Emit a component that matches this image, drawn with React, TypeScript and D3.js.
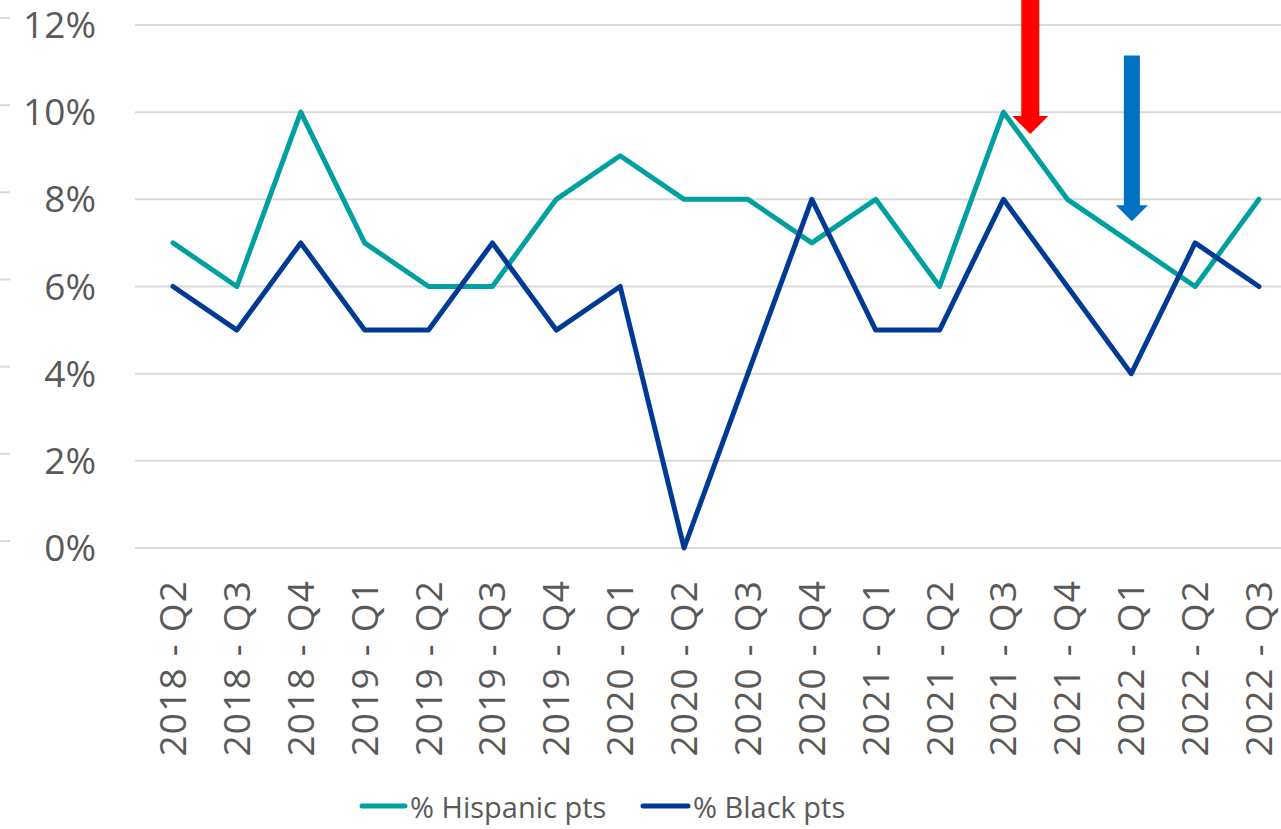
import { useEffect, useRef } from "react"
import * as d3 from "d3"

const categories = [
  "2018 - Q2", "2018 - Q3", "2018 - Q4", "2019 - Q1", "2019 - Q2", "2019 - Q3",
  "2019 - Q4", "2020 - Q1", "2020 - Q2", "2020 - Q3", "2020 - Q4", "2021 - Q1",
  "2021 - Q2", "2021 - Q3", "2021 - Q4", "2022 - Q1", "2022 - Q2", "2022 - Q3",
]
const hispanic = [7, 6, 10, 7, 6, 6, 8, 9, 8, 8, 7, 8, 6, 10, 8, 7, 6, 8]
const black = [6, 5, 7, 5, 5, 7, 5, 6, 0, 4, 8, 5, 5, 8, 6, 4, 7, 6]
const yTicks = [0, 2, 4, 6, 8, 10, 12]

const seriesList = [
  { name: "% Hispanic pts", values: hispanic, color: "#009FA0" },
  { name: "% Black pts", values: black, color: "#003A94" },
]

// annotation arrows: position in category steps, top value, tip value
const arrows = [
  { at: 13.42, from: 13.6, to: 9.5, color: "#FF0000", shaft: 18, head: 36 },
  { at: 15.01, from: 11.3, to: 7.5, color: "#0070C0", shaft: 16, head: 32 },
]

const App = () => {
  const svgRef = useRef<SVGSVGElement | null>(null)

  useEffect(() => {
    const width = 1281
    const height = 829
    const font = "'Open Sans', 'Liberation Sans', sans-serif"
    const textColor = "#595959"

    const svg = d3.select(svgRef.current)
    svg.selectAll("*").remove()
    svg.attr("width", width).attr("height", height)

    const x = d3.scalePoint<string>().domain(categories).range([173, 1259])
    const y = d3.scaleLinear().domain([0, 12]).range([548, 25])

    // gridlines
    svg
      .append("g")
      .selectAll("line")
      .data(yTicks)
      .enter()
      .append("line")
      .attr("x1", 135)
      .attr("x2", width)
      .attr("y1", (d) => y(d))
      .attr("y2", (d) => y(d))
      .style("stroke", "#D9D9D9")
      .style("stroke-width", 2)

    // small dashes at the far left
    svg
      .append("g")
      .selectAll("line")
      .data(yTicks)
      .enter()
      .append("line")
      .attr("x1", 0)
      .attr("x2", 10)
      .attr("y1", (d) => y(d) - 7)
      .attr("y2", (d) => y(d) - 7)
      .style("stroke", "#D9D9D9")
      .style("stroke-width", 2)

    // y labels
    svg
      .append("g")
      .selectAll("text")
      .data(yTicks)
      .enter()
      .append("text")
      .attr("x", 96)
      .attr("y", (d) => y(d) + 13)
      .attr("text-anchor", "end")
      .style("font-family", font)
      .style("font-size", "37px")
      .style("fill", textColor)
      .text((d) => `${d}%`)

    // x labels
    svg
      .append("g")
      .selectAll("text")
      .data(categories)
      .enter()
      .append("text")
      .attr("transform", (d) => `translate(${(x(d) || 0) + 13},580) rotate(-90)`)
      .attr("text-anchor", "end")
      .style("font-family", font)
      .style("font-size", "37px")
      .style("letter-spacing", "1.2px")
      .style("fill", textColor)
      .text((d) => d)

    // lines
    const line = d3
      .line<number>()
      .x((_, i) => x(categories[i]) || 0)
      .y((d) => y(d))

    seriesList.forEach((s) => {
      svg
        .append("path")
        .datum(s.values)
        .attr("d", line)
        .attr("fill", "none")
        .attr("stroke", s.color)
        .attr("stroke-width", 5)
        .attr("stroke-linejoin", "round")
        .attr("stroke-linecap", "round")
    })

    // arrows
    const step = x.step()
    arrows.forEach((a) => {
      const cx = (x(categories[0]) || 0) + a.at * step
      const yTop = y(a.from)
      const yTip = y(a.to)
      const headH = a.head / 2
      const path = d3.path()
      path.moveTo(cx - a.shaft / 2, yTop)
      path.lineTo(cx + a.shaft / 2, yTop)
      path.lineTo(cx + a.shaft / 2, yTip - headH)
      path.lineTo(cx + a.head / 2, yTip - headH)
      path.lineTo(cx, yTip)
      path.lineTo(cx - a.head / 2, yTip - headH)
      path.lineTo(cx - a.shaft / 2, yTip - headH)
      path.closePath()
      svg.append("path").attr("d", path.toString()).attr("fill", a.color)
    })

    // legend
    const legendItems = [
      { x0: 362, x1: 405, tx: 410 },
      { x0: 643, x1: 688, tx: 693 },
    ]
    seriesList.forEach((s, i) => {
      const li = legendItems[i]
      svg
        .append("line")
        .attr("x1", li.x0)
        .attr("x2", li.x1)
        .attr("y1", 806)
        .attr("y2", 806)
        .attr("stroke", s.color)
        .attr("stroke-width", 5)
        .attr("stroke-linecap", "round")
      svg
        .append("text")
        .attr("x", li.tx)
        .attr("y", 818)
        .style("font-family", font)
        .style("font-size", "29px")
        .style("fill", textColor)
        .text(s.name)
    })
  }, [])

  return (
    <div style={{ position: "absolute", left: 0, top: 0, background: "white" }}>
      <svg ref={svgRef}></svg>
    </div>
  )
}

export default App
